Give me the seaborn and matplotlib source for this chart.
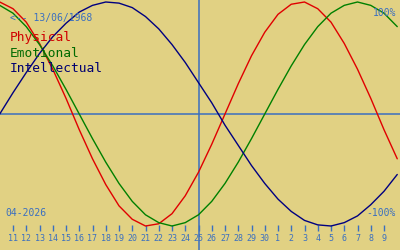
import matplotlib
matplotlib.use("Agg")
import matplotlib.pyplot as plt
import seaborn as sns
import pandas as pd

# Day positions: 10 April 2026 .. 10 May 2026 (index 0 = 11 April)
day_index = list(range(-1, 30))
physical = [1.00, 0.94, 0.82, 0.63, 0.40, 0.14, -0.14, -0.40, -0.63, -0.82, -0.94,
            -1.00, -0.98, -0.89, -0.73, -0.52, -0.27, 0.00, 0.27, 0.52, 0.73, 0.89,
            0.98, 1.00, 0.94, 0.82, 0.63, 0.40, 0.14, -0.14, -0.40]
emotional = [0.97, 0.90, 0.78, 0.62, 0.43, 0.22, 0.00, -0.22, -0.43, -0.62, -0.78,
             -0.90, -0.97, -1.00, -0.97, -0.90, -0.78, -0.62, -0.43, -0.22, 0.00, 0.22,
             0.43, 0.62, 0.78, 0.90, 0.97, 1.00, 0.97, 0.90, 0.78]
intellectual = [0.00, 0.19, 0.37, 0.54, 0.69, 0.81, 0.91, 0.97, 1.00, 0.99, 0.95,
                0.87, 0.76, 0.62, 0.46, 0.28, 0.10, -0.10, -0.28, -0.46, -0.62, -0.76,
                -0.87, -0.95, -0.99, -1.00, -0.97, -0.91, -0.81, -0.69, -0.54]
tick_labels = ["11", "12", "13", "14", "15", "16", "17", "18", "19", "20", "21", "22",
               "23", "24", "25", "26", "27", "28", "29", "30", "1", "2", "3", "4", "5",
               "6", "7", "8", "9"]
series_names = ["Physical", "Emotional", "Intellectual"]
today_index = 14
birth_text = "<-- 13/06/1968"
month_text = "04-2026"

bg = "#e1d183"
txt_blue = "#3a6fc0"
colors = {"Physical": "#e00000", "Emotional": "#008000", "Intellectual": "#000080"}
legend_colors = {"Physical": "#d00000", "Emotional": "#006a00", "Intellectual": "#000070"}

df = pd.DataFrame({
    "day": day_index * 3,
    "value": physical + emotional + intellectual,
    "series": ["Physical"] * len(physical) + ["Emotional"] * len(emotional)
              + ["Intellectual"] * len(intellectual),
})

sns.set_style("white")
plt.rcParams["font.family"] = ["DejaVu Sans Mono", "DejaVu Sans"]

fig = plt.figure(figsize=(4, 2.5), dpi=100)
fig.patch.set_facecolor(bg)
ax = fig.add_axes([0, 0, 1, 1])
ax.set_facecolor(bg)

ax.axhline(0, color=txt_blue, lw=1.1, zorder=1)
ax.axvline(today_index, color=txt_blue, lw=1.1, zorder=1)

sns.lineplot(data=df, x="day", y="value", hue="series", hue_order=series_names,
             palette=colors, linewidth=1.0, legend=False, ax=ax, zorder=3)

ax.set_xlim(-13 / 13.25, 387 / 13.25)
ax.set_ylim(-136 / 112, 114 / 112)

for s in ["top", "left", "right"]:
    ax.spines[s].set_visible(False)
ax.spines["bottom"].set_position(("data", -117 / 112))
ax.spines["bottom"].set_visible(False)
ax.set_xticks(range(len(tick_labels)))
ax.set_xticklabels(tick_labels)
ax.tick_params(axis="x", direction="in", length=4.3, width=1.0, color=txt_blue,
               labelcolor=txt_blue, labelsize=6, pad=2.5, bottom=True)
ax.set_yticks([])
ax.set_xlabel("")
ax.set_ylabel("")

def px(x, y):
    return x / 400, 1 - y / 250

ax.text(*px(10, 21), birth_text, transform=ax.transAxes, color=txt_blue,
        fontsize=7, ha="left", va="baseline")
for name, base in zip(series_names, [41.5, 57, 72.5]):
    ax.text(*px(10, base), name, transform=ax.transAxes, color=legend_colors[name],
            fontsize=9.3, ha="left", va="baseline")
ax.text(*px(5, 216), month_text, transform=ax.transAxes, color=txt_blue,
        fontsize=7, ha="left", va="baseline")
ax.text(*px(396, 15.7), "100%", transform=ax.transAxes, color=txt_blue,
        fontsize=7, ha="right", va="baseline")
ax.text(*px(396, 216), "-100%", transform=ax.transAxes, color=txt_blue,
        fontsize=7, ha="right", va="baseline")

fig.savefig("out.png", dpi=100, facecolor=bg)
